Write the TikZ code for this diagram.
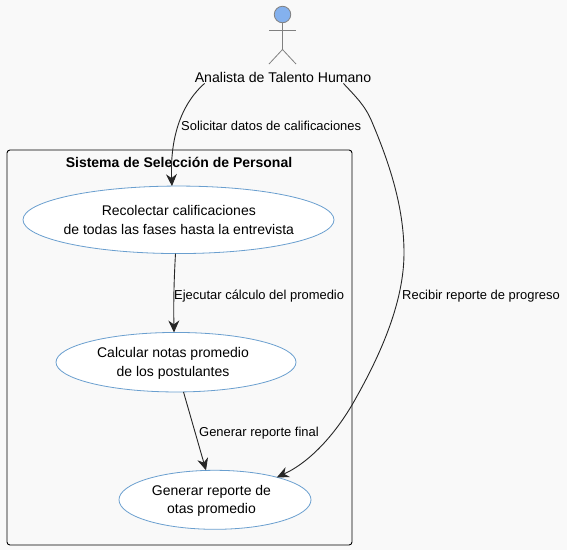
\documentclass[tikz,border=0pt]{standalone}
\usepackage{fontspec}
\setmainfont{Liberation Sans}
\usetikzlibrary{arrows.meta,shapes.geometric}
\definecolor{bgc}{HTML}{F9F9F9}
\definecolor{ucline}{HTML}{6A9FCF}
\definecolor{headfill}{HTML}{84B1EE}
\definecolor{actline}{HTML}{808080}
\tikzset{
 x=1pt,y=-1pt,
 usecase/.style={ellipse,draw=ucline,fill=white,line width=0.8pt,inner sep=0pt,outer sep=0pt},
 casetext/.style={inner sep=0pt,align=center,font=\fontsize{14}{18.5}\selectfont},
 link/.style={draw=black!85,line width=0.9pt,-{Stealth[length=12pt,width=11pt,inset=4pt]}},
 linklabel/.style={font=\fontsize{12.95}{15}\selectfont,inner sep=0pt,anchor=west},
 actorline/.style={draw=actline,line width=0.8pt},
}
\begin{document}
\begin{tikzpicture}
\useasboundingbox[fill=bgc] (0,0) rectangle (567,550);
\draw[black,line width=0.9pt,rounded corners=3pt] (7,150) rectangle (352,545);
\node[font=\bfseries\fontsize{14}{16}\selectfont,inner sep=0pt] (title) at (179,162.5) {Sistema de Selección de Personal};
% actor
\node[circle,draw=actline,fill=headfill,line width=0.8pt,minimum size=16.5pt,inner sep=0pt,outer sep=0pt] (head) at (282.5,14.5) {};
\coordinate (hip) at (282.5,49.5);
\coordinate (armL) at (269,30);
\coordinate (armR) at (296,30);
\coordinate (legL) at (269,64);
\coordinate (legR) at (296,64);
\draw[actorline] (head.south) -- (hip);
\draw[actorline] (armL) -- (armR);
\draw[actorline] (legL) -- (hip) -- (legR);
\node[font=\fontsize{14.1}{16}\selectfont,inner sep=0pt] (actor) at (283,77) {Analista de Talento Humano};
% use cases
\node[usecase,minimum width=311pt,minimum height=67.5pt] (e1) at (178.5,219.8) {};
\node[casetext] (t1) at (178.8,219.8) {Recolectar calificaciones\\de todas las fases hasta la entrevista};
\node[usecase,minimum width=240pt,minimum height=59.5pt] (e2) at (176,362.2) {};
\node[casetext] (t2) at (173,363.3) {Calcular notas promedio\\de los postulantes};
\node[usecase,minimum width=192pt,minimum height=59pt] (e3) at (215,499.8) {};
\node[casetext] (t3) at (211.5,500.7) {Generar reporte de\\otas promedio};
% links
\draw[link] ([xshift=10pt,yshift=-1pt]actor.south west) .. controls (180,105) and (170,140) .. (e1.101);
\draw[link] ([xshift=-3pt]e1.south) .. controls (174,280) and (173.5,300) .. ([xshift=-2pt]e2.north);
\draw[link] ([xshift=7.5pt]e2.south) -- ([xshift=-9pt]e3.north);
\draw[link] ([xshift=-28pt,yshift=-1pt]actor.south east) .. controls (355,96) and (365,105) .. (372,122) .. controls (388,160) and (404,205) .. (404,253) .. controls (404,310) and (372,370) .. (352,405) .. controls (336,432) and (312,461) .. (e3.20);
\node[linklabel] (l1) at (181,125.8) {Solicitar datos de calificaciones};
\node[linklabel] (l2) at (174,295.8) {Ejecutar cálculo del promedio};
\node[linklabel] (l3) at (199,432.8) {Generar reporte final};
\node[linklabel] (l4) at (402,295.8) {Recibir reporte de progreso};
\end{tikzpicture}
\end{document}
